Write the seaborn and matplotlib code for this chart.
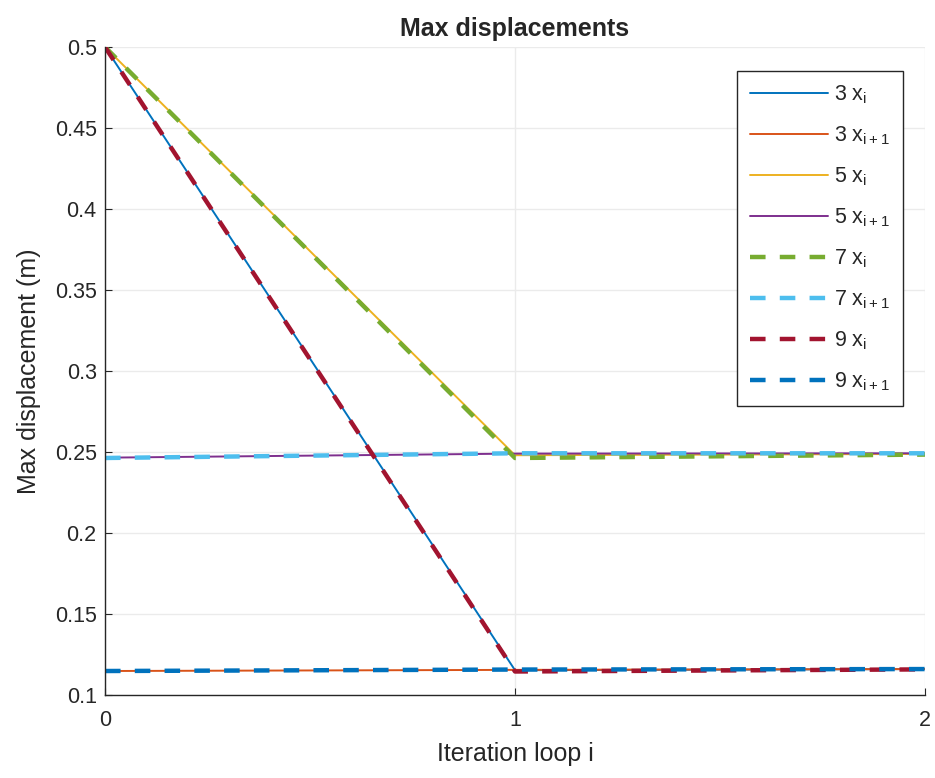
import matplotlib
matplotlib.use("Agg")
import matplotlib.pyplot as plt
import seaborn as sns
import pandas as pd

# iteration loop
iters = [0, 1, 2]

# max displacement per series
d3_xi = [0.5, 0.1153, 0.1160]
d3_xi1 = [0.1148, 0.1155, 0.1160]
d5_xi = [0.5, 0.2480, 0.2488]
d5_xi1 = [0.2465, 0.2490, 0.2492]
d7_xi = [0.5, 0.2463, 0.2484]
d7_xi1 = [0.2463, 0.2492, 0.2492]
d9_xi = [0.5, 0.1145, 0.1158]
d9_xi1 = [0.1148, 0.1157, 0.1160]

labels = ["3 $\\mathregular{x_i}$", "3 $\\mathregular{x_{i+1}}$",
          "5 $\\mathregular{x_i}$", "5 $\\mathregular{x_{i+1}}$",
          "7 $\\mathregular{x_i}$", "7 $\\mathregular{x_{i+1}}$",
          "9 $\\mathregular{x_i}$", "9 $\\mathregular{x_{i+1}}$"]
series = [d3_xi, d3_xi1, d5_xi, d5_xi1, d7_xi, d7_xi1, d9_xi, d9_xi1]
colors = ["#0072BD", "#D95319", "#EDB120", "#7E2F8E",
          "#77AC30", "#4DBEEE", "#A2142F", "#0072BD"]

sns.set_style("whitegrid")
plt.rcParams["font.family"] = ["Liberation Sans", "DejaVu Sans"]
plt.rcParams["mathtext.fontset"] = "custom"
plt.rcParams["mathtext.rm"] = "Liberation Sans"
plt.rcParams["mathtext.it"] = "Liberation Sans"

fig = plt.figure(figsize=(9.35, 7.78), dpi=100)
ax = fig.add_axes([0.1123, 0.1067, 0.8770, 0.8329])

for i, (vals, lab, c) in enumerate(zip(series, labels, colors)):
    df = pd.DataFrame({"iter": iters, "disp": vals})
    dashed = i >= 4
    sns.lineplot(data=df, x="iter", y="disp", ax=ax, color=c, label=lab,
                 linewidth=3.2 if dashed else 1.4,
                 linestyle=(0, (3.5, 3.2)) if dashed else "-")

ax.set_xlim(0, 2)
ax.set_ylim(0.1, 0.5)
ax.set_xticks([0, 1, 2])
ax.set_yticks([0.1, 0.15, 0.2, 0.25, 0.3, 0.35, 0.4, 0.45, 0.5])
ax.set_yticklabels(["0.1", "0.15", "0.2", "0.25", "0.3", "0.35", "0.4", "0.45", "0.5"])
ax.grid(True, color="#ebebeb", linewidth=1)
for s in ["top", "right"]:
    ax.spines[s].set_visible(False)
for s in ["left", "bottom"]:
    ax.spines[s].set_color("#262626")
    ax.spines[s].set_linewidth(1.0)
ax.tick_params(axis="both", which="both", direction="in", length=5, labelsize=15.5,
               colors="#262626", left=True, bottom=True)
ax.tick_params(axis="y", pad=6)
ax.tick_params(axis="x", pad=11)

ax.set_xlabel("Iteration loop i", fontsize=18, color="#262626", labelpad=8)
ax.set_ylabel("Max displacement (m)", fontsize=18, color="#262626", labelpad=10)
ax.set_title("Max displacements", fontsize=18, fontweight="bold", pad=8)

leg = ax.legend(loc="upper right", bbox_to_anchor=(0.973, 0.963), borderaxespad=0,
                fontsize=15.5, frameon=True, fancybox=False, edgecolor="#262626",
                handlelength=3.6, handletextpad=0.3, labelspacing=0.85, borderpad=0.6)
leg.get_frame().set_linewidth(1.0)
leg.get_frame().set_alpha(1)

fig.savefig("out.png", dpi=100)
